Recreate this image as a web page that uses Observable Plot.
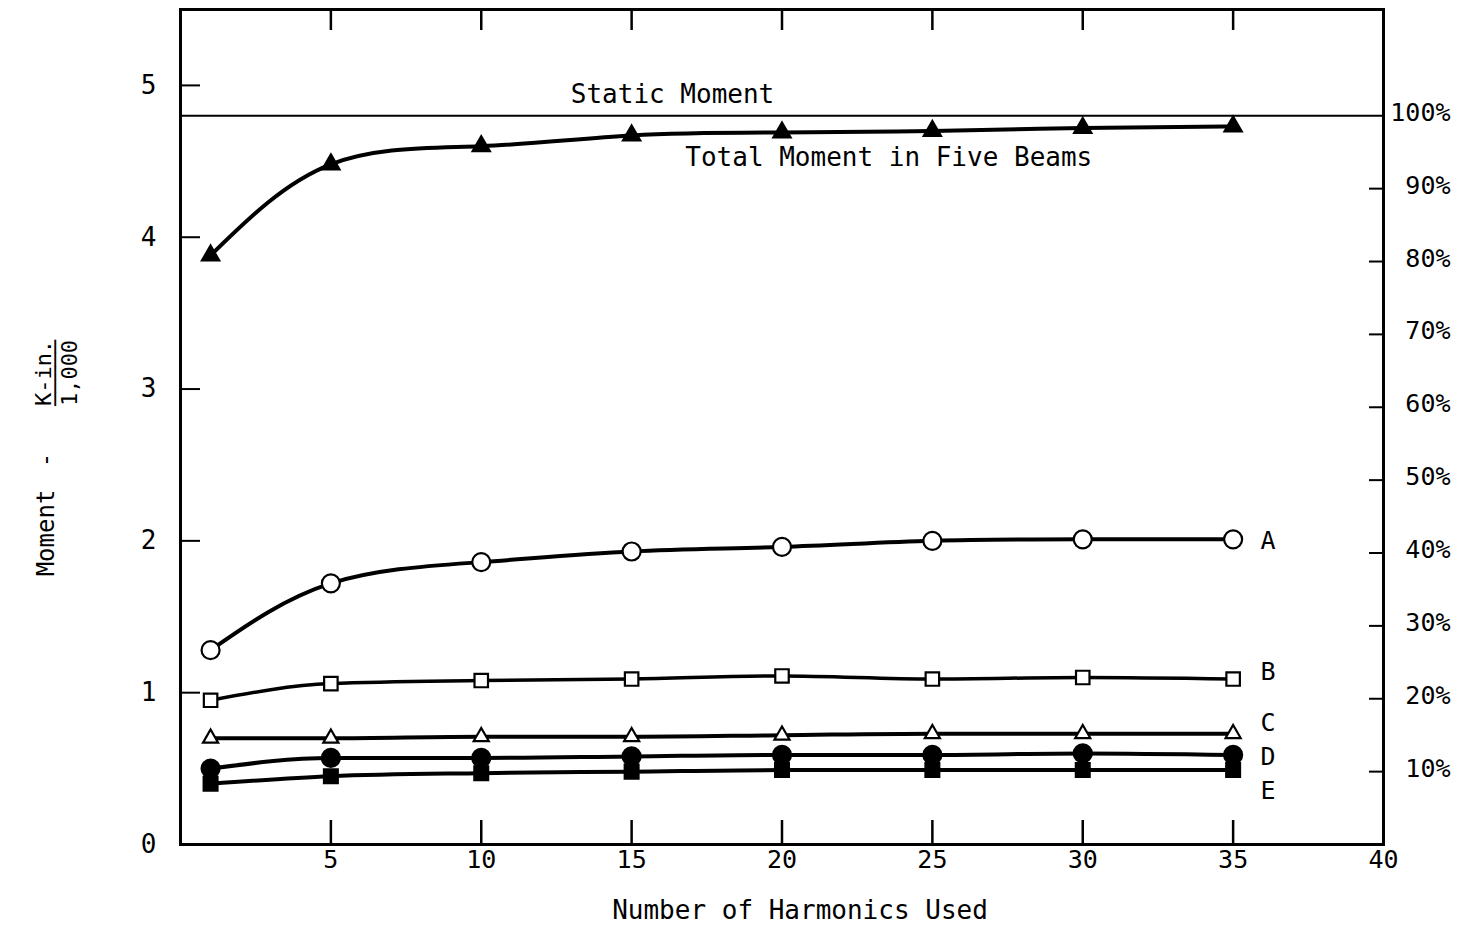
<!DOCTYPE html>
<html>
<head>
<meta charset="utf-8">
<script src="https://cdn.jsdelivr.net/npm/d3@7"></script>
<script src="https://cdn.jsdelivr.net/npm/@observablehq/plot@0.6"></script>
<style>
  body { margin: 0; background: #fff; }
</style>
</head>
<body>
<div id="chart"></div>
<script>
// Bending moment (K-in. / 1,000) against the number of harmonics used
const harmonics = [1, 5, 10, 15, 20, 25, 30, 35];
const totalMoment = [3.88, 4.48, 4.60, 4.67, 4.69, 4.70, 4.72, 4.73];
const beamA = [1.28, 1.72, 1.86, 1.93, 1.96, 2.00, 2.01, 2.01];
const beamB = [0.95, 1.06, 1.08, 1.09, 1.11, 1.09, 1.10, 1.09];
const beamC = [0.70, 0.70, 0.71, 0.71, 0.72, 0.73, 0.73, 0.73];
const beamD = [0.50, 0.57, 0.57, 0.58, 0.59, 0.59, 0.60, 0.59];
const beamE = [0.40, 0.45, 0.47, 0.48, 0.49, 0.49, 0.49, 0.49];
const staticMoment = 4.8;

const momentTicks = [0, 1, 2, 3, 4, 5];
const harmonicTicks = [5, 10, 15, 20, 25, 30, 35, 40];
const percentTicks = [10, 20, 30, 40, 50, 60, 70, 80, 90, 100];

// drawing styles for each curve
const series = [
  {name: "Total", values: totalMoment, symbol: "triangle", r: 6.4, fill: "black", width: 4, curve: "natural"},
  {name: "A", values: beamA, symbol: "circle", r: 9, fill: "white", width: 4, curve: "natural", nudge: 2},
  {name: "B", values: beamB, symbol: "square", r: 7.6, fill: "white", width: 3.5, curve: "monotone-x", nudge: -7},
  {name: "C", values: beamC, symbol: "triangle", r: 5.6, fill: "white", width: 4, curve: "monotone-x", nudge: -11},
  {name: "D", values: beamD, symbol: "circle", r: 9, fill: "black", width: 4, curve: "monotone-x", nudge: 2},
  {name: "E", values: beamE, symbol: "square", r: 7.8, fill: "black", width: 4, curve: "monotone-x", nudge: 21}
];

const rowsOf = s => harmonics.map((h, i) => ({series: s.name, h, m: s.values[i]}));

const font = "'DejaVu Sans Mono', monospace";
const toPct = v => Math.round(v / staticMoment * 100) + "%";

const marks = [];

// static moment reference line
marks.push(Plot.ruleY([staticMoment], {stroke: "black", strokeWidth: 2}));

// curves
for (const s of series) {
  marks.push(Plot.line(rowsOf(s), {
    x: "h", y: "m", curve: s.curve,
    stroke: "black", strokeWidth: s.width, strokeLinecap: "round"
  }));
}
// markers
for (const s of series) {
  marks.push(Plot.dot(rowsOf(s), {
    x: "h", y: "m", symbol: () => s.symbol, r: s.r,
    fill: s.fill, stroke: "black", strokeWidth: 2.2
  }));
}
// end labels A–E
for (const s of series.slice(1)) {
  const last = rowsOf(s).at(-1);
  marks.push(Plot.text([last], {
    x: "h", y: "m", text: () => s.name, dx: 35, dy: s.nudge,
    fontSize: 25, fontFamily: font, fill: "black"
  }));
}

// annotations
marks.push(Plot.text(["Static Moment"], {
  x: () => 16.36, y: () => staticMoment, dy: -21,
  fontSize: 26, fontFamily: font, fill: "black"
}));
marks.push(Plot.text(["Total Moment in Five Beams"], {
  x: () => 23.55, y: () => staticMoment, dy: 42,
  fontSize: 26, fontFamily: font, fill: "black"
}));

// x axis: labels below, inward ticks at bottom and top
marks.push(Plot.axisX(harmonicTicks, {anchor: "bottom", tickSize: 0, tickPadding: 6, fontSize: 25, fontFamily: font, label: null}));
marks.push(Plot.axisX(harmonicTicks.filter(t => t < 40), {anchor: "bottom", tickSize: 24, dy: -24, strokeWidth: 2.5, tickFormat: () => "", label: null}));
marks.push(Plot.axisX(harmonicTicks.filter(t => t < 40), {anchor: "top", tickSize: 20, dy: 20, strokeWidth: 2.5, tickFormat: () => "", label: null}));

// left axis: moment
marks.push(Plot.axisY(momentTicks, {anchor: "left", tickSize: 0, tickPadding: 24, tickFormat: d3.format("d"), fontSize: 26, fontFamily: font, label: null}));
marks.push(Plot.axisY(momentTicks.filter(t => t > 0), {anchor: "left", tickSize: 20, dx: 20, strokeWidth: 2, tickFormat: () => "", label: null}));

// right axis: percent of static moment
const pctValues = percentTicks.map(p => p / 100 * staticMoment);
marks.push(Plot.axisY(pctValues, {anchor: "right", tickSize: 0, tickPadding: 67, textAnchor: "end", dy: -3, tickFormat: toPct, fontSize: 25, fontFamily: font, label: null}));
marks.push(Plot.axisY(pctValues.filter(v => v < staticMoment - 1e-9), {anchor: "right", tickSize: 15, dx: -15, strokeWidth: 2, tickFormat: () => "", label: null}));

// axis titles
marks.push(Plot.text(["Number of Harmonics Used"], {
  frameAnchor: "bottom", dx: 18, dy: 66, lineAnchor: "middle",
  fontSize: 26, fontFamily: font, fill: "black"
}));
const yTitle = {frameAnchor: "left", rotate: -90, textAnchor: "middle", lineAnchor: "middle", fontFamily: font, fill: "black"};
marks.push(Plot.text(["Moment"], {...yTitle, dx: -134, dy: 106, fontSize: 24}));
marks.push(Plot.text(["-"], {...yTitle, dx: -134, dy: 33, fontSize: 24}));
marks.push(Plot.text(["K-in."], {...yTitle, dx: -137, dy: -54, fontSize: 22}));
marks.push(Plot.text(["─────"], {...yTitle, dx: -125, dy: -54, fontSize: 22}));
marks.push(Plot.text(["1,000"], {...yTitle, dx: -111, dy: -54, fontSize: 22}));

marks.push(Plot.frame({stroke: "black", strokeWidth: 3}));

const chart = Plot.plot({
  width: 1459,
  height: 932,
  marginLeft: 180,
  marginRight: 76,
  marginTop: 9,
  marginBottom: 88,
  x: {domain: [0, 40]},
  y: {domain: [0, 5.5]},
  style: {fontFamily: font, fontSize: "24px", background: "white", color: "black"},
  marks
});

document.getElementById("chart").appendChild(chart);
</script>
</body>
</html>
